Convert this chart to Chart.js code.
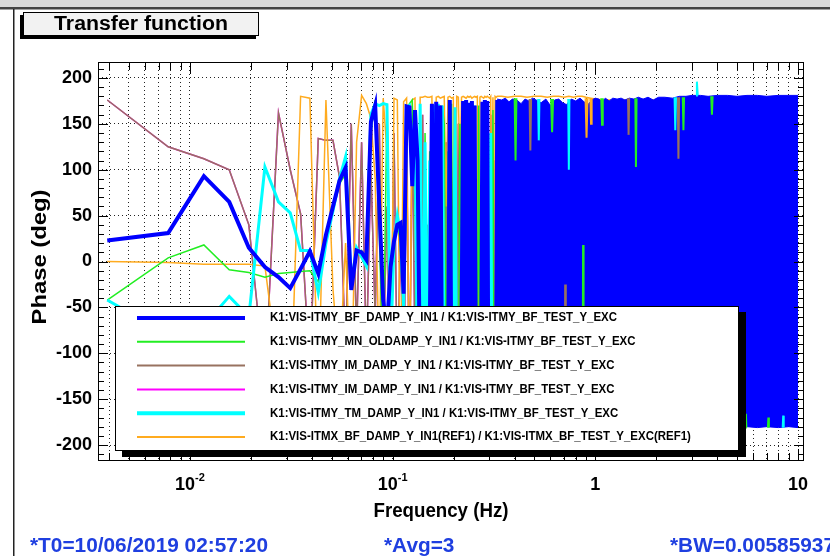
<!DOCTYPE html>
<html><head><meta charset="utf-8">
<script src="https://cdn.jsdelivr.net/npm/chart.js@4.4.1/dist/chart.umd.min.js"></script>
<style>html,body{margin:0;padding:0;background:#fff;overflow:hidden}canvas{display:block}</style>
</head><body>
<canvas id="c" width="830" height="556"></canvas>
<script>
// ---------- DATA ----------
const chartTitle = 'Transfer function';
const xTitle = 'Frequency (Hz)';
const yTitle = 'Phase (deg)';
const infoTexts = ['*T0=10/06/2019 02:57:20', '*Avg=3', '*BW=0.00585937'];

const seriesLabels = [
  'K1:VIS-ITMY_BF_DAMP_Y_IN1 / K1:VIS-ITMY_BF_TEST_Y_EXC',
  'K1:VIS-ITMY_MN_OLDAMP_Y_IN1 / K1:VIS-ITMY_BF_TEST_Y_EXC',
  'K1:VIS-ITMY_IM_DAMP_Y_IN1 / K1:VIS-ITMY_BF_TEST_Y_EXC',
  'K1:VIS-ITMY_IM_DAMP_Y_IN1 / K1:VIS-ITMY_BF_TEST_Y_EXC',
  'K1:VIS-ITMY_TM_DAMP_Y_IN1 / K1:VIS-ITMY_BF_TEST_Y_EXC',
  'K1:VIS-ITMX_BF_DAMP_Y_IN1(REF1) / K1:VIS-ITMX_BF_TEST_Y_EXC(REF1)'
];

const yTickVals = [-200, -150, -100, -50, 0, 50, 100, 150, 200];
const xTickVals = [0.004,0.005,0.006,0.007,0.008,0.009,
  0.01,0.02,0.03,0.04,0.05,0.06,0.07,0.08,0.09,
  0.1,0.2,0.3,0.4,0.5,0.6,0.7,0.8,0.9,
  1,2,3,4,5,6,7,8,9,10];
const xLabelVals = [0.01, 0.1, 1, 10];
const xLabelMain = ['10', '10', '1', '10'];
const xLabelSup  = ['-2', '-1', '', ''];

// frequency bins (Hz), low part
const freqLow = [
  0.00391,0.00781,0.01172,0.01563,0.01953,0.02344,0.02734,0.03125,0.03516,0.03906,
  0.04297,0.04688,0.05078,0.05469,0.05859,0.0625,0.06641,0.07031,0.07422,0.07813,
  0.08203,0.08594,0.08984,0.09375,0.09766,0.10156,0.10547,0.10938,0.11328,0.11719,
  0.12109,0.125,0.12891,0.13281,0.13672,0.14063,0.14453,0.14844,0.15234,0.15625,
  0.16016,0.16406,0.16797,0.17188,0.17578,0.17969,0.18359,0.1875,0.19141,0.19531,
  0.19922,0.20313,0.20703,0.21094,0.21484,0.21875,0.22266,0.22656,0.23047,0.23438,
  0.23828,0.24219,0.24609,0.25,0.25391,0.25781,0.26172,0.26563,0.26953,0.27344,
  0.27734,0.28125,0.28516,0.28906,0.29297,0.29688,0.30078,0.30469,0.30859,0.3125,
  0.31641,0.32031,0.32422,0.32813];

const bfDamp = [
  23,31,93,65,15,-6,-17,-29,-8,11,
  -13,29,60,88,102,-31,12,10,2,152,
  170,60,-42,-75,-6,22,40,42,-35,169,
  168,82,165,110,-150,-60,-100,-140,-90,172,
  -172,174,-170,170,-168,-110,-95,-130,176,-172,
  -120,-70,-140,-90,-110,-80,175,-174,176,-170,
  173,-176,175,-172,170,-168,-130,-90,-120,-100,
  174,-175,176,-172,175,-170,-120,-95,-140,-80,
  -110,-130,-90,176];

const mnOldamp = [
  -42,4,18,-9,-12,-17,-13,-12,-11,-10,
  -22,25,55,85,95,-25,8,12,0,140,
  176,30,-120,172,-60,30,45,20,-60,165,
  172,176,60,-150,150,-160,140,-100,120,-170,
  170,-170,168,-165,170,150,-160,120,-170,172,
  -120,-150,-90,-140,150,-160,170,-170,172,-168,
  170,-172,168,-170,165,-160,-120,170,-150,-130,
  170,-172,168,-170,172,-168,-130,-150,-120,165,
  -160,-140,-110,172];

const imDamp = [
  176,125,112,100,40,-130,162,100,52,-120,
  134,132,132,92,-100,150,-80,130,-100,100,
  -60,150,-110,60,-150,140,-130,30,-160,120,
  -140,150,-100,90,-170,160,-150,40,-160,170,
  -170,168,-165,170,-160,-140,130,-150,170,-170,
  -140,-100,-170,150,-130,-150,170,-168,165,-170,
  168,-172,170,-165,168,-160,-140,-100,80,-130,
  170,-168,172,-170,168,-165,-150,160,-120,-140,
  -100,110,-150,170];

const tmDamp = [
  -42,-80,-70,-38,-60,103,65,53,12,12,
  -34,20,55,90,114,-25,15,5,-5,160,
  172,170,172,171,-100,20,50,30,-50,168,
  170,120,160,-140,172,-150,130,-160,110,-170,
  170,-170,172,-168,170,-120,-140,-160,170,-172,
  -110,168,-150,-120,-130,-140,172,-168,170,-172,
  168,-170,172,-168,170,-170,-130,-140,-100,-150,
  172,-170,170,-172,172,-170,-120,140,-130,-150,
  -140,-170,-120,172];

const refBfDamp = [
  0,-1,-3,-3,-3,-5,-120,-170,180,178,
  -150,176,-30,-120,20,-160,130,181,172,156,
  90,-120,178,120,-170,178,176,-160,174,178,
  -170,176,178,-90,179,179,180,179,179,180,
  -140,179,180,178,179,180,60,179,180,178,
  179,-150,180,179,100,179,180,179,178,180,
  179,180,178,179,180,179,180,-160,179,180,
  179,178,180,179,180,179,178,180,20,179,
  -170,180,179,180];
const refHiFreq = [0.345,0.37,0.40,0.43,0.46,0.50,0.54,0.58,0.62,0.66,0.70,0.74,0.78,0.82,
  0.86,0.90,0.95,1.0,1.1,1.3,1.6,2.0,2.6,3.3,4.2,5.4,7.0,10.0];
const refHiVals = [180,179,180,180,179,180,180,179,180,180,179,180,179,180,
  180,179,178,177,176,176,176,176,176,176,176,176,176,176];

// dense high-frequency part of BF_DAMP: phase wraps every bin, upper/lower envelope
const bandFreq = [0.328,0.345,0.36,0.375,0.39,0.41,0.43,0.45,0.47,0.49,
  0.51,0.54,0.57,0.60,0.63,0.66,0.69,0.72,0.76,0.80,
  0.84,0.88,0.92,0.96,1.0,1.04,1.08,1.12,1.17,1.22,
  1.28,1.34,1.40,1.47,1.55,1.63,1.72,1.82,1.93,2.05,
  2.2,2.4,2.6,2.8,3.0,3.3,3.6,4.0,4.5,5.0,
  5.6,6.3,7.0,8.0,9.0,10.0];
const bandTop = [177,176,178,174,177,176,172,177,175,178,
  176,173,177,170,176,177,173,171,177,175,
  178,174,171,176,178,177,174,178,175,178,
  177,178,176,178,177,179,177,179,176,179,
  179,178,180,180,181,181,180,181,181,180,
  181,181,180,181,181,181];
const bandBottom = [-176,-178,-177,-179,-178,-177,-179,-178,-176,-179,
  -178,-177,-179,-178,-177,-179,-178,-179,-177,-178,
  -179,-178,-177,-179,-178,-179,-178,-179,-180,-178,
  -179,-180,-179,-178,-180,-179,-180,-179,-180,-180,
  -179,-180,-181,-180,-179,-180,-181,-180,-180,-181,
  -180,-181,-180,-181,-180,-181];

// isolated dips of the other traces visible over the dense band (triples)
const mnSpikeFreq = [0.400,0.404,0.408, 0.605,0.612,0.619, 1.07,1.079,1.088, 1.575,1.586,1.597,
  2.70,2.72,2.74, 3.73,3.76,3.79, 0.865,0.870,0.875, 5.50,5.53,5.56, 7.10,7.14,7.18];
const mnSpikeVals = [178,110,178, 177,141,177, 178,149,178, 178,103,178,
  179,143,179, 180,160,180, -180,18,-180, -181,-166,-181, -181,-170,-181];
const tmSpikeFreq = [0.522,0.526,0.530, 0.735,0.740,0.745, 2.46,2.48,2.50, 3.14,3.17,3.20, 8.40,8.45,8.50];
const tmSpikeVals = [177,132,177, 177,100,177, 179,143,179, 181,196,181, -181,-168,-181];
const imSpikeFreq = [0.474,0.478,0.482, 0.705,0.710,0.715, 1.45,1.459,1.468, 2.55,2.57,2.59];
const imSpikeVals = [177,121,177, -180,-25,-180, 178,138,178, 179,112,179];
const refSpikeFreq = [0.895,0.905,0.915, 0.945,0.952,0.959];
const refSpikeVals = [178,135,178, 178,150,178];

// ---------- STYLE ----------
const FONT = '"Liberation Sans", Arial, Helvetica, sans-serif';
const C = {blue:'#0000ff', green:'#22ee22', brown:'#987260', magenta:'#ff00ff', cyan:'#00ffff', orange:'#ffab1f'};

const pts = (fs, vs) => fs.map((f, i) => ({x: f, y: vs[i]}));
const spikes = (fs, vs) => {
  const out = [];
  fs.forEach((f, i) => { out.push({x: f, y: vs[i]}); if (i % 3 === 2) out.push({x: f, y: null}); });
  return out;
};

const datasets = [
  {label: seriesLabels[0], data: pts(freqLow, bfDamp), borderColor: C.blue, borderWidth: 4, order: 0, legendW: 4},
  {label: seriesLabels[1], data: pts(freqLow, mnOldamp), borderColor: C.green, borderWidth: 1.5, order: 4, legendW: 2},
  {label: seriesLabels[2], data: pts(freqLow, imDamp), borderColor: C.brown, borderWidth: 1.5, order: 6, legendW: 2},
  {label: seriesLabels[3], data: pts(freqLow, imDamp), borderColor: C.magenta, borderWidth: 1.5, order: 7, legendW: 2},
  {label: seriesLabels[4], data: pts(freqLow, tmDamp), borderColor: C.cyan, borderWidth: 3, order: 3, legendW: 4},
  {label: seriesLabels[5], data: pts(freqLow, refBfDamp).concat(pts(refHiFreq, refHiVals)), borderColor: C.orange, borderWidth: 1.5, order: 5, legendW: 2},
  {label: '', data: pts(bandFreq, bandTop), borderColor: C.blue, backgroundColor: C.blue, borderWidth: 1, fill: '+1', order: 2},
  {label: '', data: pts(bandFreq, bandBottom), borderColor: C.blue, borderWidth: 1, order: 2},
  {label: '', data: spikes(mnSpikeFreq, mnSpikeVals), borderColor: C.green, borderWidth: 2, order: 1},
  {label: '', data: spikes(tmSpikeFreq, tmSpikeVals), borderColor: C.cyan, borderWidth: 2, order: 1},
  {label: '', data: spikes(imSpikeFreq, imSpikeVals), borderColor: C.brown, borderWidth: 2, order: 1},
  {label: '', data: spikes(refSpikeFreq, refSpikeVals), borderColor: C.orange, borderWidth: 2, order: 1}
];
datasets.forEach(d => { d.pointRadius = 0; d.tension = 0; d.spanGaps = false; if (d.fill === undefined) d.fill = false; });

function fitText(ctx, txt, x, y, px, w, align, color, rot, scl) {
  ctx.save();
  ctx.font = 'bold ' + px + 'px ' + FONT;
  const m = ctx.measureText(txt).width;
  const s = scl || (w ? w / m : 1);
  ctx.translate(x, y);
  if (rot) ctx.rotate(rot);
  ctx.scale(s, 1);
  ctx.fillStyle = color || '#000';
  ctx.textBaseline = 'middle';
  ctx.textAlign = align || 'left';
  ctx.fillText(txt, 0, 0);
  ctx.restore();
  return s;
}

const deco = {
  id: 'deco',
  beforeDraw(chart) {
    const ctx = chart.ctx;
    ctx.save();
    ctx.fillStyle = '#fff'; ctx.fillRect(0, 0, 830, 556);
    ctx.fillStyle = '#dadada'; ctx.fillRect(0, 0, 830, 7);
    ctx.fillStyle = '#444'; ctx.fillRect(0, 7, 830, 2.5);
    ctx.fillStyle = '#222'; ctx.fillRect(13, 9, 1.5, 547);
    ctx.restore();
  },
  afterDatasetsDraw(chart) {
    const {ctx, chartArea: a, scales: {x: xs, y: ys}} = chart;
    ctx.save();
    ctx.strokeStyle = '#000'; ctx.lineWidth = 1;
    ctx.beginPath();
    xTickVals.forEach(v => {
      const px = Math.round(xs.getPixelForValue(v)) + 0.5;
      const len = xLabelVals.includes(v) ? 12 : 8;
      ctx.moveTo(px, a.top); ctx.lineTo(px, a.top + len);
      ctx.moveTo(px, a.bottom); ctx.lineTo(px, a.bottom - len);
    });
    for (let v = -210; v <= 210; v += 10) {
      const py = Math.round(ys.getPixelForValue(v)) + 0.5;
      const len = (v % 50 === 0) ? 10 : 6;
      ctx.moveTo(a.left, py); ctx.lineTo(a.left + len, py);
      ctx.moveTo(a.right, py); ctx.lineTo(a.right - len, py);
    }
    ctx.stroke();
    ctx.strokeRect(a.left + 0.5, a.top + 0.5, a.right - a.left - 1, a.bottom - a.top - 1);
    ctx.restore();
  },
  afterDraw(chart) {
    const {ctx, scales: {x: xs}} = chart;
    ctx.save();
    // title box
    ctx.fillStyle = '#000'; ctx.fillRect(20, 15, 236, 24);
    ctx.fillStyle = '#f2f2f2'; ctx.fillRect(23, 12, 236, 24);
    ctx.strokeStyle = '#000'; ctx.lineWidth = 1; ctx.strokeRect(23.5, 12.5, 235, 23);
    fitText(ctx, chartTitle, 141, 24, 20, 174, 'center');
    // axis titles
    fitText(ctx, yTitle, 40, 257, 21, 135, 'center', '#000', -Math.PI / 2);
    fitText(ctx, xTitle, 441, 511, 21, 135, 'center');
    // x tick labels with exponents
    xLabelVals.forEach((v, i) => {
      const px = xs.getPixelForValue(v);
      ctx.font = 'bold 18px ' + FONT;
      const w1 = ctx.measureText(xLabelMain[i]).width;
      ctx.font = 'bold 11px ' + FONT;
      const w2 = xLabelSup[i] ? ctx.measureText(xLabelSup[i]).width : 0;
      const x0 = px - (w1 + w2) / 2;
      ctx.fillStyle = '#000'; ctx.textAlign = 'left'; ctx.textBaseline = 'alphabetic';
      ctx.font = 'bold 18px ' + FONT; ctx.fillText(xLabelMain[i], x0, 490);
      if (w2) { ctx.font = 'bold 11px ' + FONT; ctx.fillText(xLabelSup[i], x0 + w1, 481); }
    });
    // legend
    const L = {x: 115, y: 306, w: 624, h: 145};
    ctx.fillStyle = '#000'; ctx.fillRect(L.x + 7, L.y + 6, L.w, L.h);
    ctx.fillStyle = '#fff'; ctx.fillRect(L.x, L.y, L.w, L.h);
    ctx.strokeStyle = '#000'; ctx.lineWidth = 1; ctx.strokeRect(L.x + 0.5, L.y + 0.5, L.w - 1, L.h - 1);
    let s0 = null;
    chart.data.datasets.slice(0, 6).forEach((d, i) => {
      const yy = L.y + 12 + i * 23.8;
      ctx.strokeStyle = d.borderColor; ctx.lineWidth = d.legendW;
      ctx.beginPath(); ctx.moveTo(137, yy); ctx.lineTo(245, yy); ctx.stroke();
      if (s0 === null) s0 = fitText(ctx, d.label, 270, yy, 12, 347, 'left');
      else fitText(ctx, d.label, 270, yy, 12, 0, 'left', '#000', 0, s0);
    });
    // info line
    const blue = '#1f3fe0';
    const sI = fitText(ctx, infoTexts[0], 30, 546, 21, 238, 'left', blue);
    fitText(ctx, infoTexts[1], 384, 546, 21, 0, 'left', blue, 0, sI);
    fitText(ctx, infoTexts[2], 670, 546, 21, 0, 'left', blue, 0, sI);
    ctx.restore();
  }
};

Chart.defaults.font.family = FONT;
new Chart(document.getElementById('c'), {
  type: 'line',
  data: {datasets},
  options: {
    responsive: false, animation: false, devicePixelRatio: 1,
    parsing: true,
    layout: {padding: {left: 14, top: 62, right: 26, bottom: 30}},
    plugins: {legend: {display: false}, tooltip: {enabled: false}, title: {display: false}},
    elements: {line: {capBezierPoints: false}},
    scales: {
      x: {
        type: 'logarithmic', position: 'bottom', min: 0.00352, max: 10.7,
        afterBuildTicks: s => { s.ticks = xTickVals.map(v => ({value: v})); },
        afterFit: s => { s.height = 65; },
        ticks: {display: false},
        grid: {drawTicks: false, color: '#222', lineWidth: 1, borderDash: [1, 3]},
        border: {display: false, dash: [1, 3]},
        title: {display: false}
      },
      y: {
        type: 'linear', position: 'left', min: -217.4, max: 217.4,
        afterBuildTicks: s => { s.ticks = yTickVals.map(v => ({value: v})); },
        afterFit: s => { s.width = 84; },
        ticks: {display: true, padding: 6, color: '#000', font: {size: 18, weight: 'bold', family: FONT}, callback: v => String(v)},
        grid: {drawTicks: false, color: '#222', lineWidth: 1, borderDash: [1, 3]},
        border: {display: false, dash: [1, 3]},
        title: {display: false}
      }
    }
  },
  plugins: [deco]
});
</script>
</body></html>
